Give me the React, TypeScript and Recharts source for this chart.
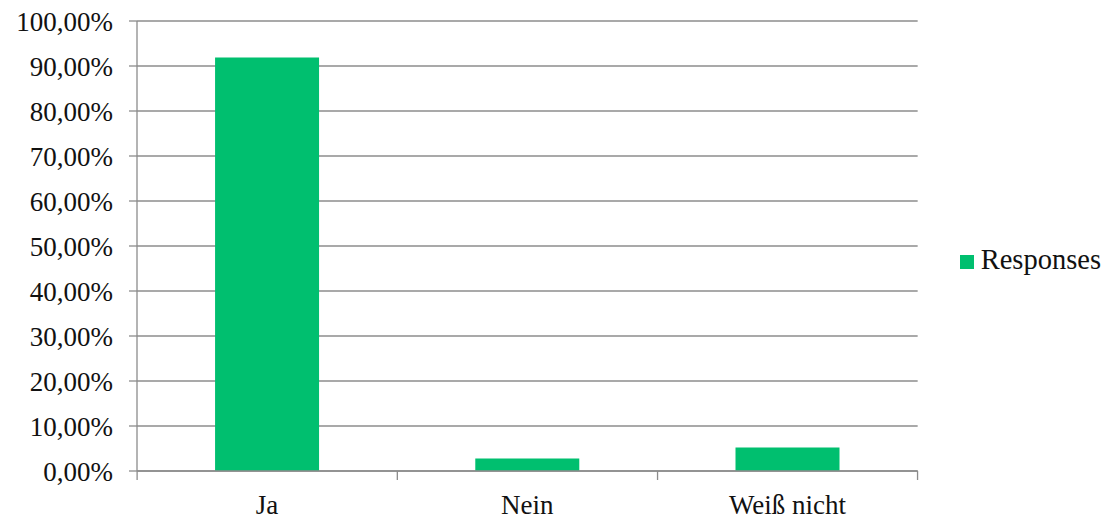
import { BarChart, Bar, XAxis, YAxis, CartesianGrid, Legend } from 'recharts';

const categories = ['Ja', 'Nein', 'Weiß nicht'];
const responses = [91.9, 2.8, 5.2];
const yTicks = [0, 10, 20, 30, 40, 50, 60, 70, 80, 90, 100];

const data = categories.map((name, i) => ({ name, Responses: responses[i] }));

const FONT = '"Liberation Serif", serif';
const GRID = '#8c8c8c';
const GREEN = '#00BF6F';

const fmt = (v: number) => `${v.toFixed(2).replace('.', ',')}%`;

// category tick: label at the centre, tick marks at the band edges
function XTick(props: any) {
  const { x, y, payload, index } = props;
  const half = 130;
  const axisY = y - 8;
  return (
    <g>
      <line x1={x - half} y1={axisY} x2={x - half} y2={axisY + 9} stroke={GRID} strokeWidth={1.3} />
      {index === categories.length - 1 && (
        <line x1={x + half} y1={axisY} x2={x + half} y2={axisY + 9} stroke={GRID} strokeWidth={1.3} />
      )}
      <text x={x} y={axisY + 34} dy="0.35em" textAnchor="middle" fill="#111" fontSize={27} fontFamily={FONT}>
        {payload.value}
      </text>
    </g>
  );
}

export default function App() {
  return (
    <div style={{ position: 'absolute', left: 0, top: 0, background: '#fff' }}>
      <BarChart
        width={1105}
        height={519}
        data={data}
        margin={{ top: 21, right: 36, left: 7, bottom: 0 }}
        barCategoryGap="30%"
      >
        <CartesianGrid vertical={false} stroke={GRID} strokeWidth={1.3} />
        <XAxis
          dataKey="name"
          height={48}
          stroke={GRID}
          strokeWidth={1.3}
          tickLine={false}
          tickSize={8}
          tickMargin={0}
          tick={<XTick />}
          interval={0}
        />
        <YAxis
          width={130}
          domain={[0, 100]}
          ticks={yTicks}
          tickFormatter={fmt}
          stroke={GRID}
          strokeWidth={1.3}
          tickSize={8}
          tickMargin={16}
          tick={{ fill: '#111', fontSize: 27, fontFamily: FONT }}
          interval={0}
        />
        <Legend
          layout="vertical"
          align="right"
          verticalAlign="middle"
          iconType="square"
          iconSize={14}
          wrapperStyle={{ fontFamily: FONT, fontSize: 27, color: '#111', right: -6 }}
          formatter={(v) => <span style={{ color: '#111', marginLeft: 3, fontSize: 28.5 }}>{v}</span>}
        />
        <Bar dataKey="Responses" fill={GREEN} isAnimationActive={false} />
      </BarChart>
    </div>
  );
}
